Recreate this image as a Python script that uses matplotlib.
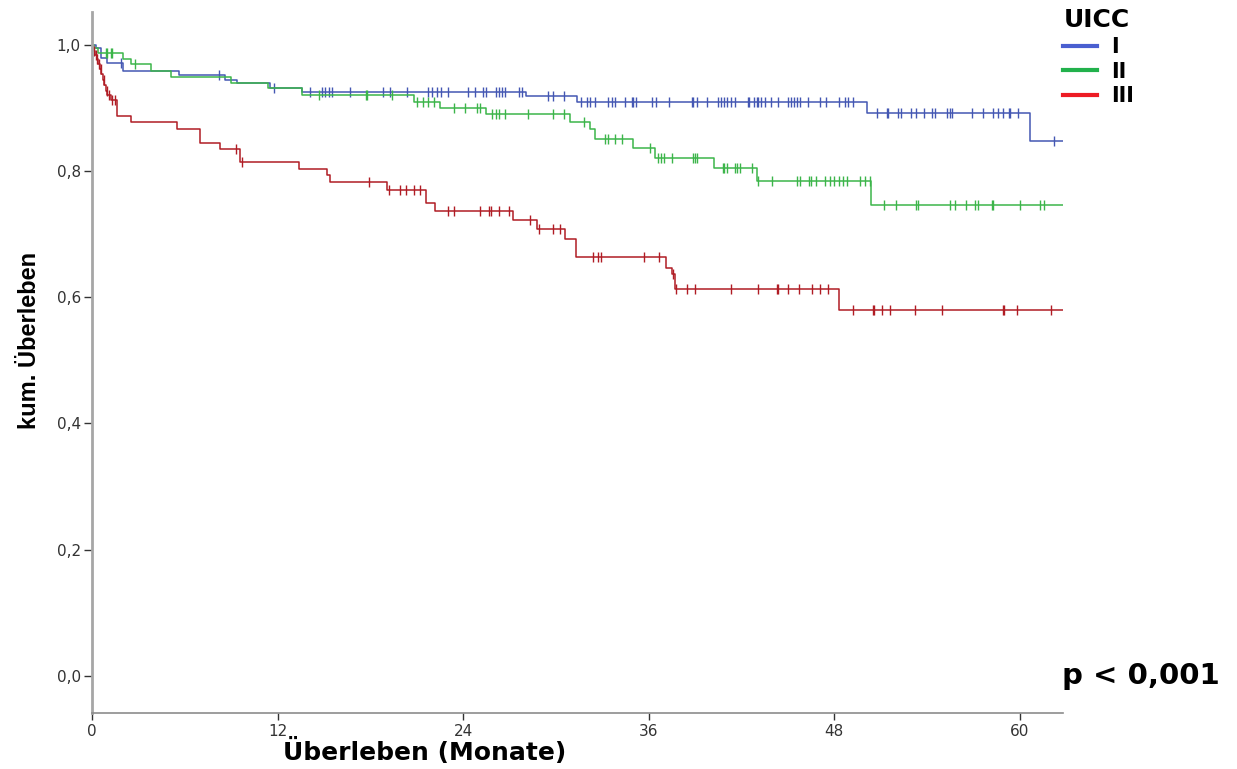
import numpy as np
import matplotlib.pyplot as plt
from matplotlib.lines import Line2D

# Kaplan-Meier steps per UICC stage (months, cumulative survival)
t_I = [0, 0.25, 0.6, 1.0, 2.0, 5.6, 8.6, 9.4, 11.5, 13.6, 28.1, 31.4, 50.1, 60.7]
s_I = [1.0, 0.995, 0.979, 0.971, 0.958, 0.952, 0.945, 0.940, 0.932, 0.926,
       0.919, 0.910, 0.892, 0.848]
cens_I = [1.9, 8.2, 11.8, 14.1, 14.9, 15.1, 15.3, 15.5, 16.7, 18.8, 19.3, 20.4,
          21.7, 22.0, 22.3, 22.6, 23.0, 24.3, 24.8, 25.3, 25.5, 26.1, 26.3, 26.5,
          26.7, 27.6, 27.8, 29.5, 29.8, 30.5, 31.6, 32.0, 32.2, 32.5, 33.4, 33.6,
          33.8, 34.5, 34.9, 35.0, 35.2, 36.2, 36.5, 37.3, 38.8, 38.9, 39.1, 39.8,
          40.5, 40.7, 40.9, 41.1, 41.3, 41.6, 42.4, 42.5, 42.8, 43.0, 43.1, 43.3,
          43.5, 43.9, 44.4, 45.0, 45.2, 45.4, 45.6, 45.8, 46.3, 47.1, 47.5, 48.3,
          48.7, 48.9, 49.2, 50.8, 51.4, 51.5, 52.1, 52.3, 53.0, 53.3, 53.8, 54.3,
          54.5, 55.3, 55.5, 55.6, 56.9, 57.6, 58.3, 58.6, 58.9, 59.3, 59.4, 59.9,
          62.2]

t_II = [0, 0.15, 0.4, 2.0, 2.5, 3.8, 5.1, 9.0, 11.4, 13.6, 20.8, 22.5, 25.5,
        30.9, 32.2, 32.5, 35.0, 36.4, 40.2, 43.0, 50.4]
s_II = [1.0, 0.995, 0.987, 0.977, 0.969, 0.958, 0.949, 0.940, 0.932, 0.921,
        0.909, 0.900, 0.890, 0.878, 0.866, 0.851, 0.836, 0.820, 0.805, 0.784,
        0.746]
cens_II = [0.9, 1.0, 1.2, 1.3, 2.8, 14.7, 17.7, 17.8, 19.4, 21.0, 21.4, 21.7,
           22.1, 23.4, 24.1, 24.9, 25.1, 25.9, 26.1, 26.3, 26.7, 28.2, 29.8, 30.5,
           31.8, 33.2, 33.4, 33.8, 34.3, 36.1, 36.6, 36.8, 37.0, 37.5, 38.9, 39.0,
           39.1, 40.8, 40.9, 41.1, 41.6, 41.7, 41.9, 42.7, 43.1, 44.0, 45.6, 45.8,
           46.4, 46.5, 46.8, 47.4, 47.7, 48.0, 48.3, 48.6, 48.8, 49.7, 50.0, 50.3,
           51.2, 52.0, 53.3, 53.4, 55.5, 55.8, 56.5, 57.1, 57.3, 58.2, 58.3, 60.0,
           61.3, 61.6]

t_III = [0, 0.05, 0.1, 0.2, 0.3, 0.4, 0.5, 0.6, 0.7, 0.8, 0.9, 1.0, 1.2, 1.6,
         2.5, 5.5, 7.0, 8.3, 9.6, 13.4, 15.2, 15.4, 19.1, 21.6, 22.2, 27.2, 28.8,
         30.6, 31.3, 37.1, 37.5, 37.7, 48.3]
s_III = [1.0, 0.995, 0.99, 0.984, 0.977, 0.97, 0.962, 0.954, 0.945, 0.936,
         0.927, 0.92, 0.912, 0.887, 0.877, 0.867, 0.845, 0.835, 0.814, 0.803,
         0.794, 0.782, 0.770, 0.750, 0.736, 0.723, 0.708, 0.693, 0.664, 0.647,
         0.637, 0.613, 0.579]
cens_III = [0.15, 0.25, 0.35, 0.45, 0.55, 0.75, 0.95, 1.1, 1.3, 1.5, 9.3, 9.7,
            17.9, 19.2, 19.9, 20.3, 20.8, 21.2, 23.0, 23.4, 25.1, 25.7, 25.8,
            26.3, 27.0, 28.3, 28.9, 29.8, 30.3, 32.4, 32.7, 32.9, 35.7, 36.7,
            37.6, 37.8, 38.5, 39.0, 41.3, 43.1, 44.3, 44.4, 45.0, 45.7, 46.6,
            47.1, 47.6, 49.2, 50.5, 50.6, 51.1, 51.6, 53.2, 55.0, 58.9, 59.0,
            59.8, 62.0]

t_end = 62.8
stages = ['I', 'II', 'III']
line_cols = ['#4457b3', '#3cb54a', '#b01c24']
legend_cols = ['#4a5fd0', '#22b14c', '#ed1c24']

plt.rcParams['font.family'] = ['DejaVu Sans']

fig = plt.figure(figsize=(12.37, 7.69), dpi=100)
ax = fig.add_axes([0.0744, 0.0728, 0.7849, 0.9116])

curves = [(t_I, s_I, cens_I), (t_II, s_II, cens_II), (t_III, s_III, cens_III)]
for (t, s, c), col in zip(curves, line_cols):
    t = np.asarray(t)
    s = np.asarray(s)
    ax.step(np.append(t, t_end), np.append(s, s[-1]), where='post',
            color=col, lw=1.1)
    # censored cases sit on the curve at their time
    c = np.asarray(c)
    cy = s[np.searchsorted(t, c, side='right') - 1]
    ax.plot(c, cy, ls='none', marker='|', ms=7, mew=1.0, color=col)

ax.set_xlim(0, t_end)
ax.set_ylim(-0.059, 1.052)
ax.set_xticks([0, 12, 24, 36, 48, 60])
ax.set_yticks([0.0, 0.2, 0.4, 0.6, 0.8, 1.0])
ax.set_yticklabels(['0,0', '0,2', '0,4', '0,6', '0,8', '1,0'])

for side in ['top', 'right']:
    ax.spines[side].set_visible(False)
ax.spines['left'].set_color('#a6a6a6')
ax.spines['left'].set_linewidth(2.0)
ax.spines['bottom'].set_color('#8c8c8c')
ax.spines['bottom'].set_linewidth(1.2)
ax.tick_params(axis='y', direction='out', length=6, width=1.0,
               color='#333333', labelsize=11, labelcolor='#333333', pad=2)
ax.tick_params(axis='x', direction='out', length=5, width=1.0,
               color='#333333', labelsize=11, labelcolor='#333333', pad=3)

fig.text(425 / 1237, 1 - 760 / 769, 'Überleben (Monate)', fontsize=18,
         fontweight='bold', ha='center', va='baseline')
fig.text(30 / 1237, 1 - 340 / 769, 'kum. Überleben', fontsize=17,
         fontweight='bold', rotation=90, ha='center', va='center',
         family=['Liberation Sans'])
fig.text(1062 / 1237, 1 - 676 / 769, 'p < 0,001', fontsize=21,
         fontweight='bold', ha='left', va='center')

handles = [Line2D([0], [0], color=c, lw=3) for c in legend_cols]
leg = fig.legend(handles, stages, title='UICC', loc='upper left',
                 bbox_to_anchor=(1055 / 1237, 1.0), frameon=False,
                 handlelength=1.6, handletextpad=0.7, labelspacing=0.22,
                 borderaxespad=0.0, alignment='left',
                 prop={'weight': 'bold', 'size': 15},
                 title_fontproperties={'weight': 'bold', 'size': 18})

fig.savefig('out.png', dpi=100)
